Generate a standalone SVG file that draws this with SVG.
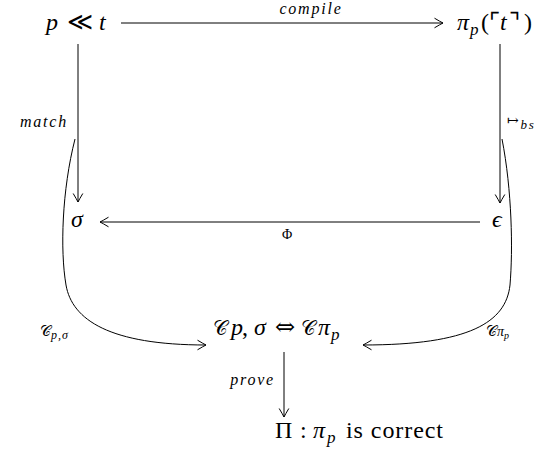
<svg xmlns="http://www.w3.org/2000/svg" width="552" height="459" viewBox="0 0 552 459">
<defs>
<marker id="arr" viewBox="-10 -6 12 12" markerWidth="12" markerHeight="12" refX="0" refY="0" orient="auto" markerUnits="userSpaceOnUse">
<path d="M -8.5 -4.8 Q -2.5 -1.2 0 0 Q -2.5 1.2 -8.5 4.8" fill="none" stroke="#000" stroke-width="1"/>
</marker>
</defs>
<style>
.m{font-family:"Liberation Serif","DejaVu Serif",serif;font-size:24px;fill:#000}
.i{font-style:italic}
.sub{font-size:17px;font-style:italic}
.cal{font-size:20px;font-style:normal}
.s{font-family:"Liberation Serif","DejaVu Serif",serif;font-size:16px;font-style:italic;letter-spacing:1.8px;fill:#000}
.sym{font-family:"DejaVu Serif","Liberation Serif",serif;font-style:normal}
.e{fill:none;stroke:#000;stroke-width:1}
</style>
<g id="n-pt"><text class="m"><tspan class="i" x="46" y="30">p</tspan><tspan class="sym" x="67" y="30" font-size="25">≪</tspan><tspan class="i" x="99" y="30">t</tspan></text></g>
<g id="n-pi"><text class="m"><tspan class="i" x="457" y="30">π</tspan><tspan class="sub" x="470" y="35">p</tspan><tspan x="481" y="30">(</tspan><tspan class="sym" x="489" y="30">⌜</tspan><tspan class="i" x="500" y="30">t</tspan><tspan class="sym" x="509" y="30">⌝</tspan><tspan x="524" y="30">)</tspan></text></g>
<g id="n-sigma"><text class="m i" x="71" y="227">σ</text></g>
<g id="n-eps"><text class="m i" x="492" y="227">ϵ</text></g>
<g id="n-eq"><text class="m"><tspan class="sym cal" x="213" y="335">𝒞</tspan><tspan class="i" x="231" y="335">p</tspan><tspan x="242" y="335">,</tspan><tspan class="i" x="254" y="335">σ</tspan><tspan class="sym" x="275" y="335">⇔</tspan><tspan class="sym cal" x="301" y="335">𝒞</tspan><tspan class="i" x="318" y="335">π</tspan><tspan class="sub" x="331" y="340">p</tspan></text></g>
<g id="n-pi2"><text class="m"><tspan x="275" y="438">Π</tspan><tspan x="300" y="438">:</tspan><tspan class="i" x="313" y="438">π</tspan><tspan class="sub" x="327" y="443">p</tspan><tspan x="346" y="438" textLength="97" lengthAdjust="spacing">is correct</tspan></text></g>
<g id="connectors">
<line class="e" x1="121" y1="23" x2="443" y2="23" marker-end="url(#arr)"/>
<text class="s" x="311" y="14" text-anchor="middle">compile</text>
<line class="e" x1="78" y1="44" x2="78" y2="202" marker-end="url(#arr)"/>
<text class="s" x="68" y="127" text-anchor="end">match</text>
<line class="e" x1="500" y1="44" x2="500" y2="203" marker-end="url(#arr)"/>
<text class="s" x="507" y="128"><tspan class="sym" font-size="14" dy="-3">↦</tspan><tspan dy="4" font-size="13">bs</tspan></text>
<line class="e" x1="480" y1="222" x2="100" y2="222" marker-end="url(#arr)"/>
<text class="s" x="288" y="239" text-anchor="middle" style="font-style:normal;font-size:14px">Φ</text>
<path class="e" d="M 75 139 C 62 190, 60 250, 66 285 C 72 320, 110 345, 206 345" marker-end="url(#arr)"/>
<text class="s" x="40" y="336" style="letter-spacing:0"><tspan class="sym" font-size="15">𝒞</tspan><tspan font-size="12" dy="3" letter-spacing="1">p,σ</tspan></text>
<path class="e" d="M 502 139 C 512 190, 513 250, 510 285 C 506 322, 470 345, 363 345" marker-end="url(#arr)"/>
<text class="s" x="486" y="336" style="letter-spacing:0"><tspan class="sym" font-size="15">𝒞</tspan><tspan font-size="14">π</tspan><tspan font-size="10" dy="3">p</tspan></text>
<line class="e" x1="284" y1="352" x2="284" y2="417" marker-end="url(#arr)"/>
<text class="s" x="275" y="385" text-anchor="end">prove</text>
</g>
</svg>
